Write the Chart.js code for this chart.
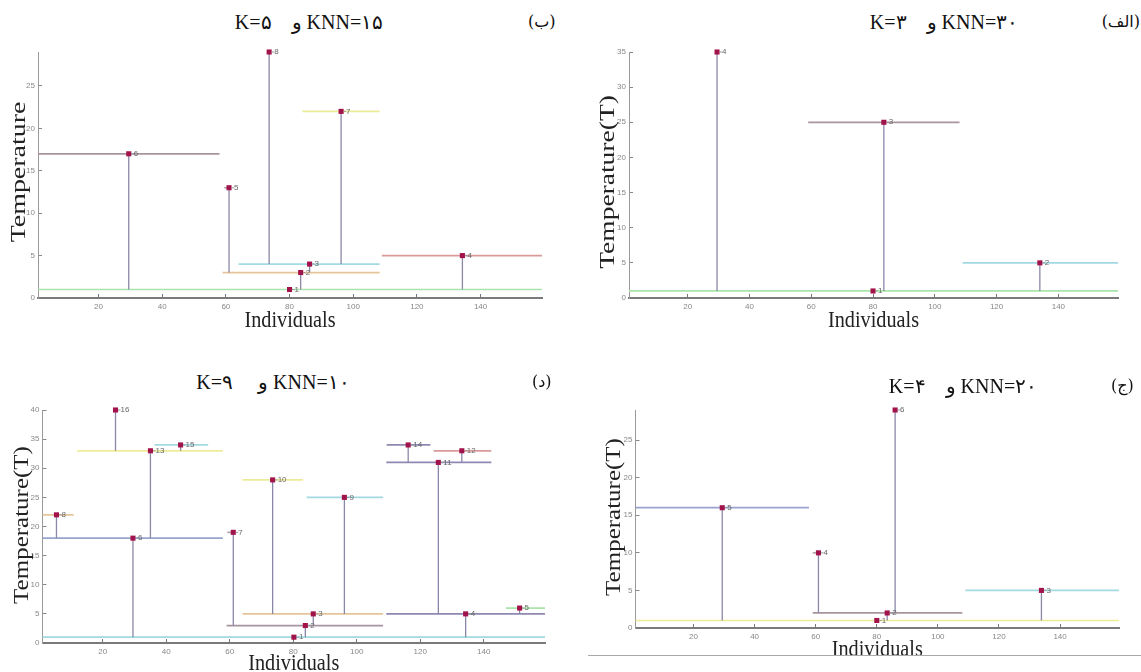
<!DOCTYPE html>
<html>
<head>
<meta charset="utf-8">
<script src="https://cdn.jsdelivr.net/npm/chart.js@4.4.1/dist/chart.umd.min.js"></script>
<style>
  html, body { margin: 0; padding: 0; background: #fff; overflow: hidden; }
  #page { position: relative; width: 1141px; height: 672px; overflow: hidden; }
  canvas { position: absolute; }
  .title { position: absolute; width: 240px; text-align: center; font-family: 'Liberation Serif', 'DejaVu Serif', serif; font-size: 20px; line-height: 18px; white-space: nowrap; color: #111; }
  .tag { position: absolute; font-family: 'DejaVu Serif', 'DejaVu Sans', serif; font-size: 16px; line-height: 18px; white-space: nowrap; color: #111; }
  #rule { position: absolute; left: 588px; top: 655px; width: 553px; height: 0; border-top: 1.5px solid #a9a9a9; }
</style>
</head>
<body>
<div id="page">
  <canvas id="panelBe"></canvas>
  <canvas id="panelAlef"></canvas>
  <canvas id="panelDal"></canvas>
  <canvas id="panelJim"></canvas>

  <div class="title" dir="rtl" style="left:189px; top:13px;">KNN=۱۵ و&nbsp;&nbsp;&nbsp;&nbsp;K=۵</div>
  <div class="tag" dir="rtl" style="left:528px; top:13px;">(ب)</div>

  <div class="title" dir="rtl" style="left:824px; top:13px;">KNN=۳۰ و&nbsp;&nbsp;&nbsp;&nbsp;K=۳</div>
  <div class="tag" dir="rtl" style="right:1px; top:13px;">(الف)</div>

  <div class="title" dir="rtl" style="left:153px; top:373px;">KNN=۱۰ و&nbsp;&nbsp;&nbsp;&nbsp;&nbsp;K=۹</div>
  <div class="tag" dir="rtl" style="left:532px; top:373px;">(د)</div>

  <div class="title" dir="rtl" style="left:843px; top:377px;">KNN=۲۰ و&nbsp;&nbsp;&nbsp;&nbsp;K=۴</div>
  <div class="tag" dir="rtl" style="left:1111px; top:377px;">(ج)</div>

  <div id="rule"></div>
</div>

<script>
// shared x axis
const xTicks = [20, 40, 60, 80, 100, 120, 140];
const xMin = 1;
const xMax = 159.3;

// (الف)  KNN=30, K=3
const alefNodeX = [80, 134, 83.5, 29.5];
const alefNodeT = [1, 5, 25, 35];
const alefNodeBase = [1, 1, 1, 1];
const alefLevelT = [1, 5, 25];
const alefLevelFrom = [1, 109, 59];
const alefLevelTo = [159.3, 159.3, 108];
const alefYTicks = [0, 5, 10, 15, 20, 25, 30, 35];
const alefYMax = 35;

// (ب)  KNN=15, K=5
const beNodeX = [80, 83.5, 86.3, 134.3, 61, 29.5, 96.2, 73.6];
const beNodeT = [1, 3, 4, 5, 13, 17, 22, 29];
const beNodeBase = [1, 1, 3, 1, 3, 1, 4, 4];
const beLevelT = [1, 3, 4, 5, 17, 22, 13];
const beLevelFrom = [1, 59, 64, 109, 1, 84, 59.5];
const beLevelTo = [159.3, 108.3, 108.3, 159.3, 58, 108.3, 61];
const beYTicks = [0, 5, 10, 15, 20, 25];
const beYMax = 29;

// (ج)  KNN=20, K=4
const jimNodeX = [80, 83.4, 133.9, 60.9, 29.4, 86];
const jimNodeT = [1, 2, 5, 10, 16, 29];
const jimNodeBase = [1, 1, 1, 2, 1, 2];
const jimLevelT = [1, 2, 5, 16, 10];
const jimLevelFrom = [1, 59, 109, 1, 59];
const jimLevelTo = [159.3, 108, 159.3, 57.8, 61];
const jimYTicks = [0, 5, 10, 15, 20, 25];
const jimYMax = 29;

// (د)  KNN=10, K=9
const dalNodeX = [80.2, 83.8, 86.3, 134.3, 151.3, 29.5, 61.1, 5.4, 96.1, 73.5, 125.7, 133.1, 35, 116.2, 44.5, 24];
const dalNodeT = [1, 3, 5, 5, 6, 18, 19, 22, 25, 28, 31, 33, 33, 34, 34, 40];
const dalNodeBase = [1, 1, 3, 1, 5, 1, 3, 18, 5, 5, 5, 31, 18, 31, 33, 33];
const dalLevelT = [1, 3, 5, 5, 6, 18, 19, 22, 25, 28, 31, 33, 34, 33, 34];
const dalLevelFrom = [1, 59, 64, 109.3, 147, 1, 59.2, 1, 84.2, 64, 109.3, 124.2, 109.4, 11.9, 36.3];
const dalLevelTo = [159.3, 108.3, 108.3, 159.3, 159.3, 57.8, 61, 10.8, 108.3, 83.1, 142.4, 142.4, 123.2, 57.8, 53.2];
const dalYTicks = [0, 5, 10, 15, 20, 25, 30, 35, 40];
const dalYMax = 40;

// colours
const GREEN = '#a9e4a9';
const CYAN = '#a3d9e3';
const MAUVE = '#a8949f';
const RED = '#d99a9a';
const ORANGE = '#e6c49a';
const YELLOW = '#ecec98';
const BLUE = '#98a4d0';
const PURPLE = '#8f88b2';
const GREY = '#b0a8b0';
const STEM = '#8a88a8';
const MARK = '#a3134b';
const SERIF = "'Liberation Serif', 'DejaVu Serif', serif";
const TICK_FONT = { family: "'Liberation Sans Narrow', 'Liberation Sans', sans-serif", size: 8 };

const alefLevelColors = [GREEN, CYAN, MAUVE];
const beLevelColors = [GREEN, ORANGE, CYAN, RED, MAUVE, YELLOW, GREY];
const jimLevelColors = [YELLOW, MAUVE, CYAN, BLUE, GREY];
const dalLevelColors = [CYAN, MAUVE, ORANGE, PURPLE, GREEN, BLUE, GREY, ORANGE, CYAN, YELLOW, PURPLE, RED, PURPLE, YELLOW, CYAN];

// node numbers beside the markers
const nodeLabels = {
  id: 'nodeLabels',
  afterDatasetsDraw(chart) {
    const meta = chart.getDatasetMeta(0);
    const ctx = chart.ctx;
    ctx.save();
    ctx.font = "8px 'Liberation Sans Narrow', 'Liberation Sans', sans-serif";
    ctx.fillStyle = '#666';
    ctx.strokeStyle = '#999';
    ctx.lineWidth = 1;
    ctx.textBaseline = 'middle';
    meta.data.forEach((pt, i) => {
      ctx.beginPath();
      ctx.moveTo(pt.x + 2.5, pt.y);
      ctx.lineTo(pt.x + 5, pt.y);
      ctx.stroke();
      ctx.fillText(String(i + 1), pt.x + 5, pt.y);
    });
    ctx.restore();
  }
};

// axis titles in the LaTeX look: x narrowed a bit, y drawn out along its length
const axisTitles = {
  id: 'axisTitles',
  afterDraw(chart, args, o) {
    const ctx = chart.ctx;
    const area = chart.chartArea;
    ctx.save();
    ctx.fillStyle = '#222';
    ctx.textAlign = 'center';
    ctx.textBaseline = 'alphabetic';

    ctx.save();
    ctx.font = o.xSize + 'px ' + SERIF;
    ctx.translate((area.left + area.right) / 2, o.xBase);
    ctx.scale(o.xStretch, 1);
    ctx.fillText(o.xText, 0, 0);
    ctx.restore();

    ctx.font = o.ySize + 'px ' + SERIF;
    ctx.translate(o.yBase, o.yMid);
    ctx.rotate(-Math.PI / 2);
    ctx.scale(o.yStretch, 1);
    ctx.fillText(o.yText, 0, 0);
    ctx.restore();
  }
};

function buildPanel(p) {
  const cv = document.getElementById(p.id);
  const f = p.frame, a = p.area;
  cv.style.left = f.x + 'px';
  cv.style.top = f.y + 'px';
  cv.width = f.w;
  cv.height = f.h;
  cv.style.width = f.w + 'px';
  cv.style.height = f.h + 'px';

  const yAxisW = a.l - f.x;
  const xAxisH = f.y + f.h - a.b;

  const points = p.nodeX.map((x, i) => ({ x: x, y: p.nodeT[i] }));
  const stems = [];
  p.nodeX.forEach((x, i) => {
    stems.push({ x: x, y: p.nodeBase[i] }, { x: x, y: p.nodeT[i] }, { x: x, y: null });
  });

  const datasets = [{
    data: points, pointStyle: 'rect', pointRadius: 3.6, pointHoverRadius: 3.6,
    backgroundColor: MARK, borderColor: MARK, borderWidth: 0, order: 0, clip: false
  }, {
    data: stems, showLine: true, pointRadius: 0, borderColor: STEM, borderWidth: 1.3, order: 1, clip: false
  }];
  p.levelT.forEach((t, i) => {
    datasets.push({
      data: [{ x: p.levelFrom[i], y: t }, { x: p.levelTo[i], y: t }],
      showLine: true, pointRadius: 0, borderColor: p.levelColors[i], borderWidth: 1.7, order: 2, clip: false
    });
  });

  new Chart(cv, {
    type: 'scatter',
    data: { datasets: datasets },
    options: {
      responsive: false,
      animation: false,
      devicePixelRatio: 1,
      events: [],
      layout: { padding: { left: 0, bottom: 0, top: a.t - f.y, right: f.x + f.w - a.r } },
      plugins: {
        legend: { display: false },
        tooltip: { enabled: false },
        axisTitles: {
          xText: 'Individuals', xSize: 23, xStretch: 0.88, xBase: p.xBase - f.y,
          yText: p.yLabel, ySize: 21, yStretch: p.yStretch, yBase: p.yBase - f.x, yMid: p.yMid - f.y
        }
      },
      scales: {
        x: {
          type: 'linear', min: xMin, max: xMax,
          afterFit: s => { s.height = xAxisH; },
          afterBuildTicks: s => { s.ticks = xTicks.map(v => ({ value: v })); },
          grid: { drawOnChartArea: false, drawTicks: true, tickLength: -4, tickColor: '#777', tickWidth: 1 },
          border: { color: '#7a7a7a', width: 2 },
          ticks: { color: '#888', font: TICK_FONT, padding: 8, maxRotation: 0, autoSkip: false }
        },
        y: {
          type: 'linear', min: 0, max: p.yMax,
          afterFit: s => { s.width = yAxisW; },
          afterBuildTicks: s => { s.ticks = p.yTicks.map(v => ({ value: v })); },
          grid: { drawOnChartArea: false, drawTicks: true, tickLength: -4, tickColor: '#888', tickWidth: 1 },
          border: { color: '#999', width: 1 },
          ticks: { color: '#888', font: TICK_FONT, padding: 7, autoSkip: false }
        }
      }
    },
    plugins: [nodeLabels, axisTitles]
  });
}

buildPanel({
  id: 'panelBe', yLabel: 'Temperature',
  frame: { x: 0, y: 40, w: 560, h: 295 }, area: { l: 38, r: 542, t: 52, b: 298 },
  yBase: 25, yMid: 172, yStretch: 1.33, xBase: 327,
  nodeX: beNodeX, nodeT: beNodeT, nodeBase: beNodeBase,
  levelT: beLevelT, levelFrom: beLevelFrom, levelTo: beLevelTo, levelColors: beLevelColors,
  yTicks: beYTicks, yMax: beYMax
});

buildPanel({
  id: 'panelAlef', yLabel: 'Temperature(T)',
  frame: { x: 575, y: 40, w: 566, h: 295 }, area: { l: 629, r: 1118, t: 52, b: 298 },
  yBase: 614, yMid: 182, yStretch: 1.31, xBase: 327,
  nodeX: alefNodeX, nodeT: alefNodeT, nodeBase: alefNodeBase,
  levelT: alefLevelT, levelFrom: alefLevelFrom, levelTo: alefLevelTo, levelColors: alefLevelColors,
  yTicks: alefYTicks, yMax: alefYMax
});

buildPanel({
  id: 'panelDal', yLabel: 'Temperature(T)',
  frame: { x: 0, y: 395, w: 560, h: 285 }, area: { l: 42.5, r: 545, t: 410, b: 643 },
  yBase: 28, yMid: 525, yStretch: 1.19, xBase: 670,
  nodeX: dalNodeX, nodeT: dalNodeT, nodeBase: dalNodeBase,
  levelT: dalLevelT, levelFrom: dalLevelFrom, levelTo: dalLevelTo, levelColors: dalLevelColors,
  yTicks: dalYTicks, yMax: dalYMax
});

buildPanel({
  id: 'panelJim', yLabel: 'Temperature(T)',
  frame: { x: 575, y: 395, w: 566, h: 275 }, area: { l: 635.5, r: 1119, t: 410, b: 628 },
  yBase: 620, yMid: 517, yStretch: 1.19, xBase: 656,
  nodeX: jimNodeX, nodeT: jimNodeT, nodeBase: jimNodeBase,
  levelT: jimLevelT, levelFrom: jimLevelFrom, levelTo: jimLevelTo, levelColors: jimLevelColors,
  yTicks: jimYTicks, yMax: jimYMax
});
</script>
</body>
</html>
